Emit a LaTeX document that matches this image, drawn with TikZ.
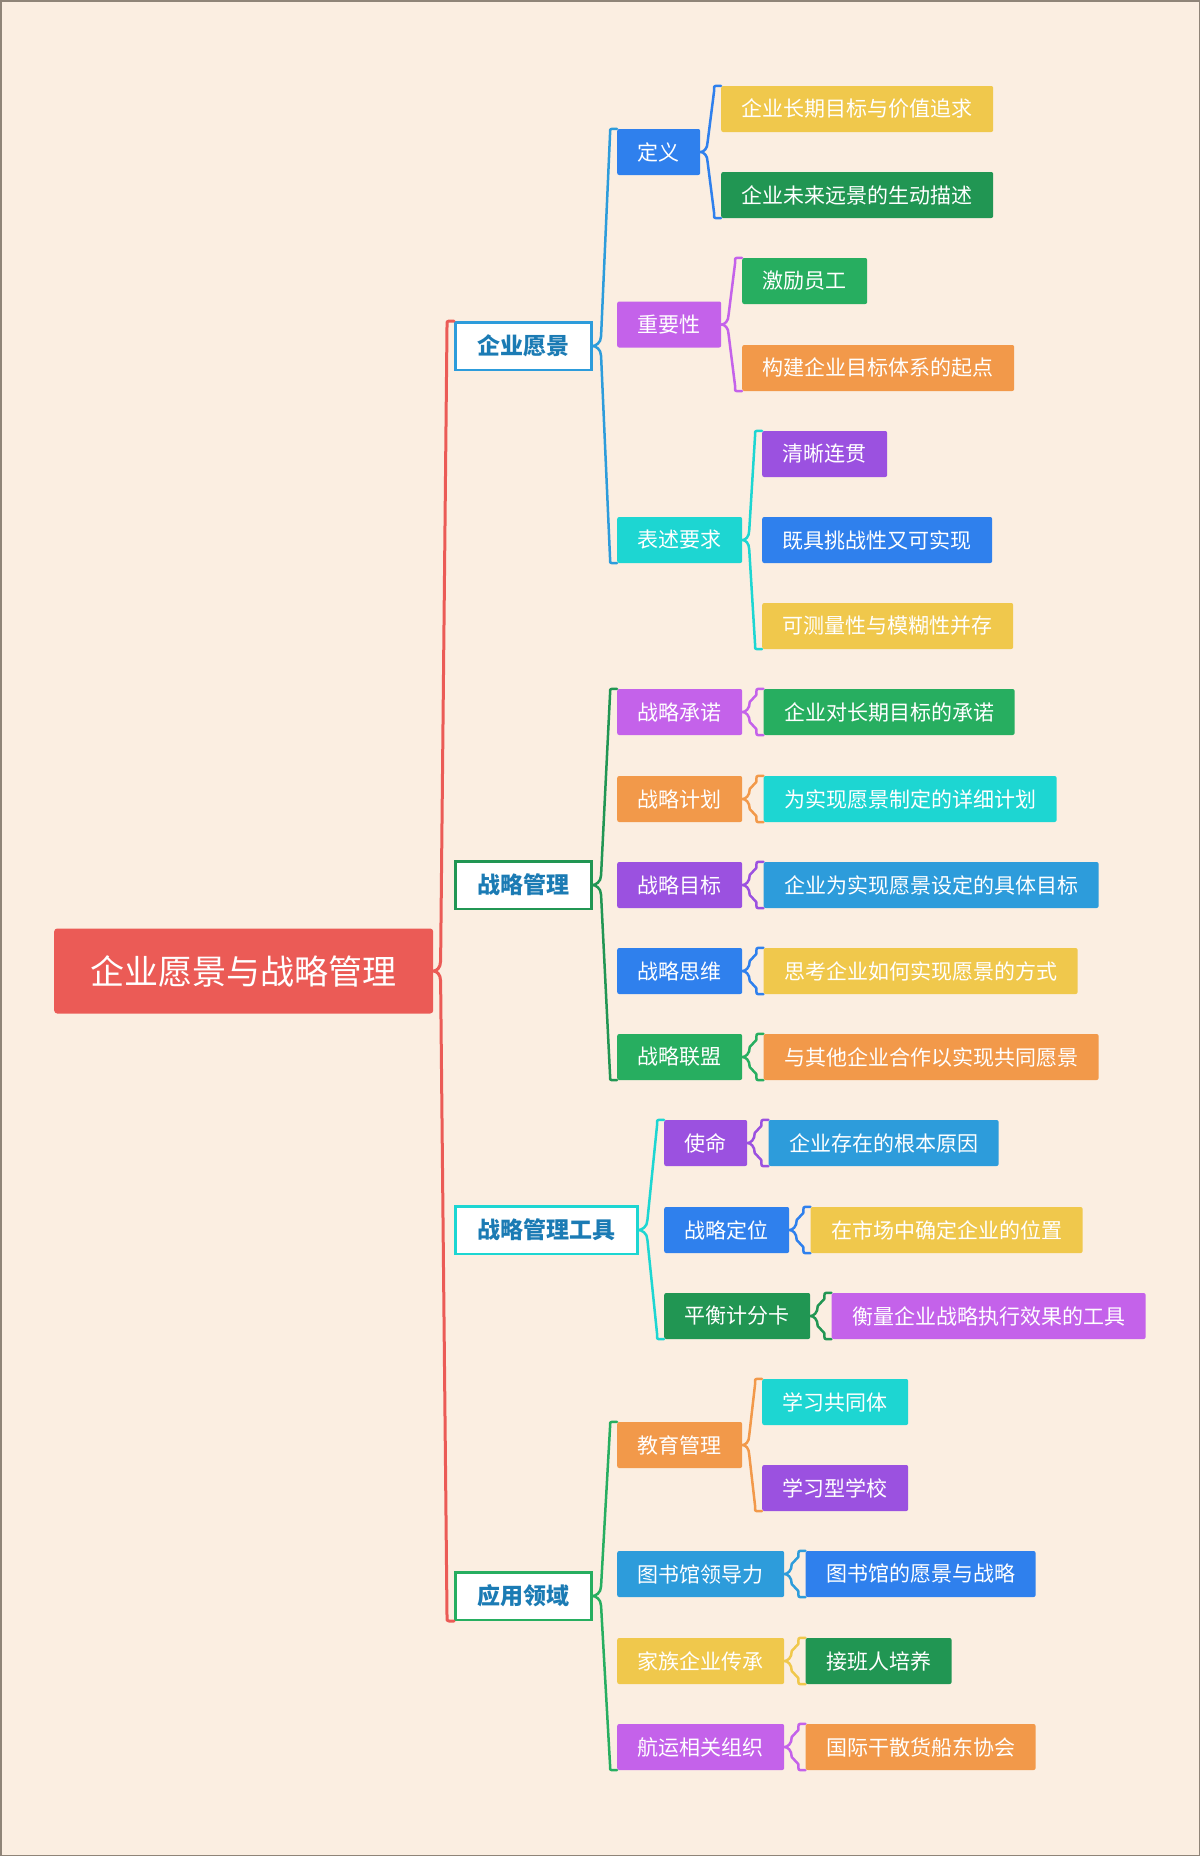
\documentclass[tikz,border=0pt]{standalone}
\usepackage{fontspec}
\setmainfont{Noto Sans CJK SC}
\usepackage{tikz}
\usetikzlibrary{positioning,calc}

\definecolor{cRed}{HTML}{EB5B56}
\definecolor{cOrange}{HTML}{F2994A}
\definecolor{cYellow}{HTML}{F0C84C}
\definecolor{cGreenD}{HTML}{219653}
\definecolor{cGreen}{HTML}{27AE60}
\definecolor{cBlue}{HTML}{2F80ED}
\definecolor{cBlueL}{HTML}{2D9CDB}
\definecolor{cCyan}{HTML}{1DD6D2}
\definecolor{cPurple}{HTML}{9B51E0}
\definecolor{cMagenta}{HTML}{C462EA}
\definecolor{cTopicText}{HTML}{1B7BB4}
\definecolor{cBg}{HTML}{FBEEE1}
\definecolor{cFrame}{HTML}{8F8478}

% curly bracket from a parent to its first and last child
\newcommand{\mmbrace}[4]{%
  \draw[brace, #1] let \p1=(#2.east), \p2=(#3.north west), \p3=(#4.south west),
      \p4=($(\p1)!0.35!(\p2)$) in
    (\p2) -- (\x2-5pt,\y2) .. controls (\x2-7pt,\y2) .. (\x2-7pt,\y2-6pt)
    -- (\x4,\y1+10pt) .. controls (\x4,\y1+3pt) and (\x1+3pt,\y1) .. (\p1)
    .. controls (\x1+3pt,\y1) and (\x4,\y1-3pt) .. (\x4,\y1-10pt)
    -- (\x2-7pt,\y3+6pt) .. controls (\x2-7pt,\y3) .. (\x2-5pt,\y3) -- (\p3);}

\begin{document}
\begin{tikzpicture}[
    x=1pt, y=-1pt,
    rootbox/.style={fill=cRed, text=white, rounded corners=3pt, anchor=west,
                    minimum height=85pt, inner xsep=36.5pt, inner ysep=0pt,
                    font=\fontsize{34}{40}\selectfont},
    topic/.style={draw, line width=2.5pt, fill=white, text=cTopicText, anchor=west,
                  minimum height=47.5pt, inner xsep=22pt, inner ysep=0pt,
                  font=\fontsize{23}{28}\selectfont\bfseries},
    sub/.style={text=white, rounded corners=2pt, anchor=west,
                minimum height=46pt, inner xsep=20.5pt, inner ysep=0pt,
                font=\fontsize{21}{25}\selectfont},
    leaf/.style={sub},
    brace/.style={line width=2.5pt, line cap=round, line join=round},
  ]

  % ---------- background ----------
  \useasboundingbox (0,0) rectangle (1200,1856);
  \fill[cBg] (0,0) rectangle (1200,1856);
  \draw[cFrame, line width=1.5pt] (0.75,0.75) rectangle (1199.25,1855.25);

  % ---------- centre ----------
  \node[rootbox] (root) at (54,971) {企业愿景与战略管理};

  % ---------- 企业愿景 ----------
  \node[topic, draw=cBlueL] (vis) at (454,346) {企业愿景};
  \node[sub, fill=cBlue] (def) at (617,152) {定义};
  \node[sub, fill=cMagenta] (imp) at (617,324.5) {重要性};
  \node[sub, fill=cCyan] (req) at (617,540) {表述要求};

  \node[leaf, fill=cYellow] (def1) at (721,109) {企业长期目标与价值追求};
  \node[leaf, fill=cGreenD] (def2) at (721,195) {企业未来远景的生动描述};
  \node[leaf, fill=cGreen] (imp1) at (742,281) {激励员工};
  \node[leaf, fill=cOrange] (imp2) at (742,368) {构建企业目标体系的起点};
  \node[leaf, fill=cPurple] (req1) at (762,454) {清晰连贯};
  \node[leaf, fill=cBlue] (req2) at (762,540) {既具挑战性又可实现};
  \node[leaf, fill=cYellow] (req3) at (762,626) {可测量性与模糊性并存};

  % ---------- 战略管理 ----------
  \node[topic, draw=cGreenD] (stm) at (454,885) {战略管理};
  \node[sub, fill=cMagenta] (s1) at (617,712) {战略承诺};
  \node[sub, fill=cOrange] (s2) at (617,799) {战略计划};
  \node[sub, fill=cPurple] (s3) at (617,885) {战略目标};
  \node[sub, fill=cBlue] (s4) at (617,971) {战略思维};
  \node[sub, fill=cGreen] (s5) at (617,1057) {战略联盟};

  \node[leaf, fill=cGreen, right=21pt of s1] (s1a) {企业对长期目标的承诺};
  \node[leaf, fill=cCyan, right=21pt of s2] (s2a) {为实现愿景制定的详细计划};
  \node[leaf, fill=cBlueL, right=21pt of s3] (s3a) {企业为实现愿景设定的具体目标};
  \node[leaf, fill=cYellow, right=21pt of s4] (s4a) {思考企业如何实现愿景的方式};
  \node[leaf, fill=cOrange, right=21pt of s5] (s5a) {与其他企业合作以实现共同愿景};

  % ---------- 战略管理工具 ----------
  \node[topic, draw=cCyan] (tool) at (454,1230) {战略管理工具};
  \node[sub, fill=cPurple] (t1) at (664,1143) {使命};
  \node[sub, fill=cBlue] (t2) at (664,1230) {战略定位};
  \node[sub, fill=cGreenD] (t3) at (664,1316) {平衡计分卡};

  \node[leaf, fill=cBlueL, right=21pt of t1] (t1a) {企业存在的根本原因};
  \node[leaf, fill=cYellow, right=21pt of t2] (t2a) {在市场中确定企业的位置};
  \node[leaf, fill=cMagenta, right=21pt of t3] (t3a) {衡量企业战略执行效果的工具};

  % ---------- 应用领域 ----------
  \node[topic, draw=cGreen] (app) at (454,1596) {应用领域};
  \node[sub, fill=cOrange] (a1) at (617,1445) {教育管理};
  \node[sub, fill=cBlueL] (a2) at (617,1574) {图书馆领导力};
  \node[sub, fill=cYellow] (a3) at (617,1661) {家族企业传承};
  \node[sub, fill=cMagenta] (a4) at (617,1747) {航运相关组织};

  \node[leaf, fill=cCyan] (a1a) at (762,1402) {学习共同体};
  \node[leaf, fill=cPurple] (a1b) at (762,1488) {学习型学校};
  \node[leaf, fill=cBlue, right=21pt of a2] (a2a) {图书馆的愿景与战略};
  \node[leaf, fill=cGreenD, right=21pt of a3] (a3a) {接班人培养};
  \node[leaf, fill=cOrange, right=21pt of a4] (a4a) {国际干散货船东协会};

  % ---------- brackets ----------
  \mmbrace{cRed, line width=3pt}{root}{vis}{app}

  \mmbrace{cBlueL}{vis}{def}{req}
  \mmbrace{cBlue}{def}{def1}{def2}
  \mmbrace{cMagenta}{imp}{imp1}{imp2}
  \mmbrace{cCyan}{req}{req1}{req3}

  \mmbrace{cGreenD}{stm}{s1}{s5}
  \mmbrace{cMagenta}{s1}{s1a}{s1a}
  \mmbrace{cOrange}{s2}{s2a}{s2a}
  \mmbrace{cPurple}{s3}{s3a}{s3a}
  \mmbrace{cBlue}{s4}{s4a}{s4a}
  \mmbrace{cGreen}{s5}{s5a}{s5a}

  \mmbrace{cCyan}{tool}{t1}{t3}
  \mmbrace{cPurple}{t1}{t1a}{t1a}
  \mmbrace{cBlue}{t2}{t2a}{t2a}
  \mmbrace{cGreenD}{t3}{t3a}{t3a}

  \mmbrace{cGreen}{app}{a1}{a4}
  \mmbrace{cOrange}{a1}{a1a}{a1b}
  \mmbrace{cBlueL}{a2}{a2a}{a2a}
  \mmbrace{cYellow}{a3}{a3a}{a3a}
  \mmbrace{cMagenta}{a4}{a4a}{a4a}

\end{tikzpicture}
\end{document}
